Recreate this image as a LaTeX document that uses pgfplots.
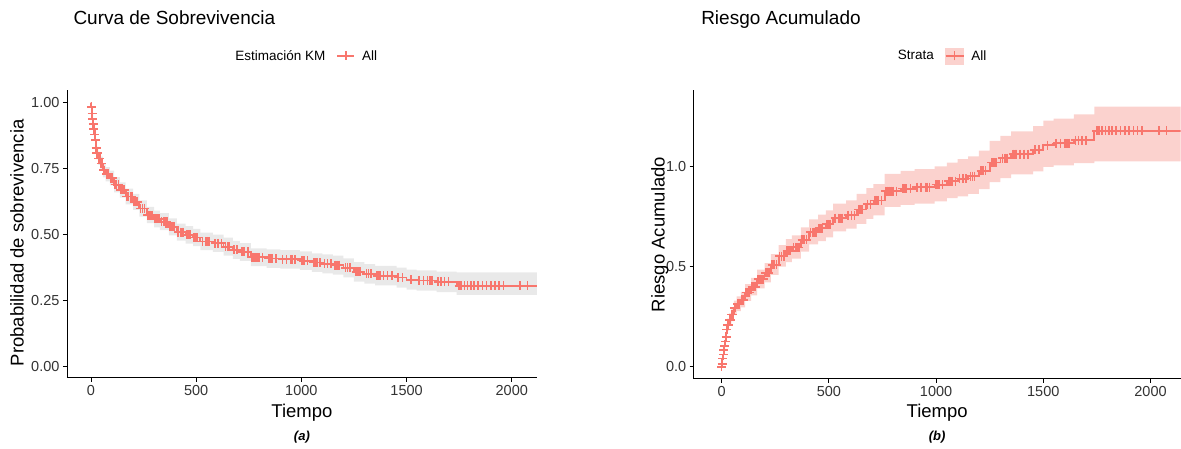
\documentclass[border=0pt]{standalone}
\usepackage{pgfplots}
\pgfplotsset{compat=1.18}
\usepackage{pgfplotstable}
\usepgfplotslibrary{fillbetween}
\usepackage{fontspec}
\setmainfont{Liberation Sans}
\definecolor{salmon}{HTML}{F8766D}
\definecolor{greyband}{HTML}{E9E9E9}
\definecolor{pinkband}{HTML}{FBD2CE}
\definecolor{ticktxt}{HTML}{333333}

\pgfplotstableread{
t S H
0 1.000 0.0000
2 0.985 0.0151
4 0.960 0.0408
7 0.940 0.0619
10 0.920 0.0834
13 0.900 0.1054
16 0.880 0.1278
20 0.860 0.1508
23 0.830 0.1863
26 0.810 0.2107
35 0.790 0.2357
45 0.770 0.2614
57 0.745 0.2944
70 0.730 0.3147
90 0.715 0.3355
110 0.690 0.3711
138 0.670 0.4005
165 0.645 0.4385
200 0.625 0.4700
230 0.600 0.5108
266 0.575 0.5534
300 0.560 0.5798
328 0.550 0.5978
370 0.530 0.6349
408 0.510 0.6733
450 0.500 0.6931
486 0.490 0.7133
520 0.475 0.7444
580 0.468 0.7593
630 0.455 0.7875
675 0.443 0.8142
708 0.435 0.8324
760 0.415 0.8795
835 0.410 0.8916
900 0.407 0.8989
993 0.402 0.9113
1050 0.395 0.9289
1100 0.390 0.9416
1150 0.385 0.9545
1200 0.375 0.9808
1250 0.360 1.0217
1300 0.352 1.0441
1350 0.345 1.0642
1453 0.338 1.0847
1500 0.330 1.1087
1548 0.327 1.1178
1643 0.322 1.1332
1738 0.307 1.1809
2200 0.307 1.1809
}\curve

\pgfplotstableread{
t Slo Shi Hlo Hhi
0 0.990 1.000 0.0000 0.0101
2 0.973 0.997 0.0030 0.0274
4 0.942 0.978 0.0222 0.0598
7 0.920 0.960 0.0408 0.0834
10 0.900 0.940 0.0619 0.1054
13 0.878 0.922 0.0812 0.1301
16 0.858 0.902 0.1031 0.1532
20 0.837 0.883 0.1244 0.1779
23 0.806 0.854 0.1579 0.2157
26 0.786 0.834 0.1815 0.2408
35 0.765 0.815 0.2046 0.2679
45 0.744 0.796 0.2282 0.2957
57 0.718 0.772 0.2588 0.3313
70 0.703 0.757 0.2784 0.3524
90 0.687 0.743 0.2971 0.3754
110 0.661 0.719 0.3299 0.4140
138 0.641 0.699 0.3581 0.4447
165 0.615 0.675 0.3930 0.4861
200 0.595 0.655 0.4231 0.5192
230 0.569 0.631 0.4605 0.5639
266 0.544 0.606 0.5009 0.6088
300 0.528 0.592 0.5242 0.6387
328 0.518 0.582 0.5413 0.6578
370 0.498 0.562 0.5763 0.6972
408 0.478 0.542 0.6125 0.7381
450 0.467 0.533 0.6292 0.7614
486 0.457 0.523 0.6482 0.7831
520 0.442 0.508 0.6773 0.8164
580 0.435 0.501 0.6911 0.8324
630 0.421 0.489 0.7154 0.8651
675 0.409 0.477 0.7402 0.8940
708 0.401 0.469 0.7572 0.9138
760 0.381 0.449 0.8008 0.9650
835 0.375 0.445 0.8097 0.9808
900 0.372 0.442 0.8165 0.9889
993 0.367 0.437 0.8278 1.0024
1050 0.360 0.430 0.8440 1.0217
1100 0.354 0.426 0.8533 1.0385
1150 0.349 0.421 0.8651 1.0527
1200 0.339 0.411 0.8892 1.0818
1250 0.323 0.397 0.9238 1.1301
1300 0.315 0.389 0.9442 1.1552
1350 0.308 0.382 0.9623 1.1777
1453 0.300 0.376 0.9782 1.2040
1500 0.292 0.368 0.9997 1.2310
1548 0.289 0.365 1.0079 1.2413
1643 0.283 0.361 1.0189 1.2623
1738 0.272 0.358 1.0272 1.3019
2200 0.272 0.358 1.0272 1.3019
}\band

\pgfplotstableread{
t S H
2 0.985 0.0151
5 0.960 0.0408
8 0.940 0.0619
11 0.920 0.0834
14 0.900 0.1054
18 0.880 0.1278
21 0.860 0.1508
24 0.830 0.1863
27 0.810 0.2107
31 0.810 0.2107
38 0.790 0.2357
42 0.790 0.2357
48 0.770 0.2614
52 0.770 0.2614
60 0.745 0.2944
65 0.745 0.2944
75 0.730 0.3147
82 0.730 0.3147
95 0.715 0.3355
102 0.715 0.3355
115 0.690 0.3711
122 0.690 0.3711
130 0.690 0.3711
142 0.670 0.4005
150 0.670 0.4005
158 0.670 0.4005
170 0.645 0.4385
178 0.645 0.4385
188 0.645 0.4385
195 0.645 0.4385
205 0.625 0.4700
212 0.625 0.4700
220 0.625 0.4700
235 0.600 0.5108
245 0.600 0.5108
255 0.600 0.5108
270 0.575 0.5534
280 0.575 0.5534
290 0.575 0.5534
305 0.560 0.5798
315 0.560 0.5798
322 0.560 0.5798
335 0.550 0.5978
345 0.550 0.5978
352 0.550 0.5978
360 0.550 0.5978
375 0.530 0.6349
385 0.530 0.6349
395 0.530 0.6349
415 0.510 0.6733
425 0.510 0.6733
432 0.510 0.6733
440 0.510 0.6733
455 0.500 0.6931
462 0.500 0.6931
470 0.500 0.6931
490 0.490 0.7133
498 0.490 0.7133
505 0.490 0.7133
530 0.475 0.7444
545 0.475 0.7444
552 0.475 0.7444
560 0.475 0.7444
590 0.468 0.7593
605 0.468 0.7593
620 0.468 0.7593
640 0.455 0.7875
648 0.455 0.7875
655 0.455 0.7875
680 0.443 0.8142
695 0.443 0.8142
715 0.435 0.8324
722 0.435 0.8324
730 0.435 0.8324
745 0.435 0.8324
765 0.415 0.8795
772 0.415 0.8795
780 0.415 0.8795
790 0.415 0.8795
800 0.415 0.8795
815 0.415 0.8795
845 0.410 0.8916
852 0.410 0.8916
860 0.410 0.8916
880 0.410 0.8916
910 0.407 0.8989
930 0.407 0.8989
950 0.407 0.8989
958 0.407 0.8989
970 0.407 0.8989
1000 0.402 0.9113
1008 0.402 0.9113
1015 0.402 0.9113
1030 0.402 0.9113
1060 0.395 0.9289
1068 0.395 0.9289
1075 0.395 0.9289
1090 0.395 0.9289
1110 0.390 0.9416
1125 0.390 0.9416
1140 0.390 0.9416
1160 0.385 0.9545
1170 0.385 0.9545
1180 0.385 0.9545
1210 0.375 0.9808
1220 0.375 0.9808
1230 0.375 0.9808
1260 0.360 1.0217
1270 0.360 1.0217
1280 0.360 1.0217
1310 0.352 1.0441
1320 0.352 1.0441
1330 0.352 1.0441
1360 0.345 1.0642
1368 0.345 1.0642
1375 0.345 1.0642
1390 0.345 1.0642
1410 0.345 1.0642
1430 0.345 1.0642
1460 0.338 1.0847
1480 0.338 1.0847
1520 0.330 1.1087
1560 0.327 1.1178
1580 0.327 1.1178
1600 0.327 1.1178
1610 0.327 1.1178
1620 0.327 1.1178
1650 0.322 1.1332
1665 0.322 1.1332
1680 0.322 1.1332
1700 0.322 1.1332
1750 0.307 1.1809
1760 0.307 1.1809
1775 0.307 1.1809
1790 0.307 1.1809
1805 0.307 1.1809
1820 0.307 1.1809
1840 0.307 1.1809
1860 0.307 1.1809
1880 0.307 1.1809
1900 0.307 1.1809
1920 0.307 1.1809
1940 0.307 1.1809
1960 0.307 1.1809
2040 0.307 1.1809
2075 0.307 1.1809
}\marks

\pgfplotsset{kmstyle/.style={
  scale only axis,
  clip mode=individual,
  axis x line*=bottom, axis y line*=left,
  axis line style={black, line width=0.9pt},
  tick align=outside, major tick length=4pt,
  tick style={black, line width=0.9pt},
  ticklabel style={font=\fontsize{14.5}{16}\selectfont, text=ticktxt},
  /pgf/number format/assume math mode=true,
  xtick={0,500,1000,1500,2000},
  scaled ticks=false,
  /pgf/number format/1000 sep={},
  label style={font=\fontsize{18.5}{20}\selectfont},
  title style={font=\fontsize{19}{21}\selectfont},
  legend style={draw=none, fill=none, font=\fontsize{13.5}{15}\selectfont,
    legend columns=-1, anchor=center,
    /tikz/every odd column/.append style={column sep=5pt},
    /tikz/every even column/.append style={column sep=9pt}},
}}

\begin{document}
\begin{tikzpicture}
\path (0,0) rectangle (1181pt,449pt);

% ---------- (a) survival ----------
\begin{axis}[kmstyle,
  at={(67pt,71pt)}, anchor=south west,
  width=470pt, height=288pt,
  xmin=-114, xmax=2119, ymin=-0.042, ymax=1.049,
  ytick={0,0.25,0.5,0.75,1},
  yticklabel style={/pgf/number format/.cd, fixed, fixed zerofill, precision=2},
  title={Curva de Sobrevivencia},
  title style={at={(axis description cs:0,1)}, anchor=base west, xshift=3pt, yshift=59pt},
  xlabel={Tiempo},
  xlabel style={at={(axis description cs:0.5,-0.1215)}, anchor=center},
  ylabel={Probabilidad de sobrevivencia},
  ylabel style={at={(axis description cs:-0.1064,0.469)}, anchor=center},
  legend style={at={(0.504,1.118)}},
]
\addlegendimage{empty legend}
\addlegendentry{Estimación KM}
\addlegendimage{color=salmon, line width=1.5pt, mark=+, mark size=4.5pt}
\addlegendentry{All}
\addplot[name path=lo, const plot, draw=none, forget plot] table[x=t, y=Slo] {\band};
\addplot[name path=hi, const plot, draw=none, forget plot] table[x=t, y=Shi] {\band};
\addplot[greyband, forget plot] fill between[of=lo and hi];
\addplot[const plot, color=salmon, line width=1.8pt, forget plot] table[x=t, y=S] {\curve};
\addplot[only marks, mark=+, mark size=4.5pt, color=salmon, line width=1.6pt, forget plot] table[x=t, y=S] {\marks};
\node[font=\fontsize{13}{14}\selectfont\bfseries\itshape] at (axis description cs:0.5,-0.205) {(a)};
\end{axis}

% ---------- (b) cumulative hazard ----------
\begin{axis}[kmstyle,
  at={(694pt,70pt)}, anchor=south west,
  width=487pt, height=289pt,
  xmin=-130, xmax=2140, ymin=-0.06, ymax=1.385,
  ytick={0,0.5,1},
  yticklabel style={/pgf/number format/.cd, fixed, fixed zerofill, precision=1},
  title={Riesgo Acumulado},
  title style={at={(axis description cs:0,1)}, anchor=base west, xshift=4pt, yshift=59pt},
  xlabel={Tiempo},
  xlabel style={at={(axis description cs:0.5,-0.1176)}, anchor=center},
  ylabel={Riesgo Acumulado},
  ylabel style={at={(axis description cs:-0.0698,0.50)}, anchor=center},
  legend style={at={(0.505,1.118)}},
]
\addlegendimage{empty legend}
\addlegendentry{Strata}
\addlegendimage{legend image code/.code={
  \fill[pinkband] (0pt,-8pt) rectangle (18pt,8pt);
  \draw[salmon, line width=1.5pt] (0pt,0pt) -- (18pt,0pt);
  \draw[salmon, line width=1.5pt] (9pt,-4.5pt) -- (9pt,4.5pt);
}}
\addlegendentry{All}
\addplot[name path=lo2, const plot, draw=none, forget plot] table[x=t, y=Hlo] {\band};
\addplot[name path=hi2, const plot, draw=none, forget plot] table[x=t, y=Hhi] {\band};
\addplot[pinkband, forget plot] fill between[of=lo2 and hi2];
\addplot[const plot, color=salmon, line width=1.8pt, forget plot] table[x=t, y=H] {\curve};
\addplot[only marks, mark=+, mark size=4.5pt, color=salmon, line width=1.6pt, forget plot] table[x=t, y=H] {\marks};
\addplot[only marks, mark=+, mark size=4.5pt, color=salmon, line width=1.6pt, forget plot] coordinates {(0,0)};
\node[font=\fontsize{13}{14}\selectfont\bfseries\itshape] at (axis description cs:0.5,-0.2007) {(b)};
\end{axis}
\end{tikzpicture}
\end{document}
